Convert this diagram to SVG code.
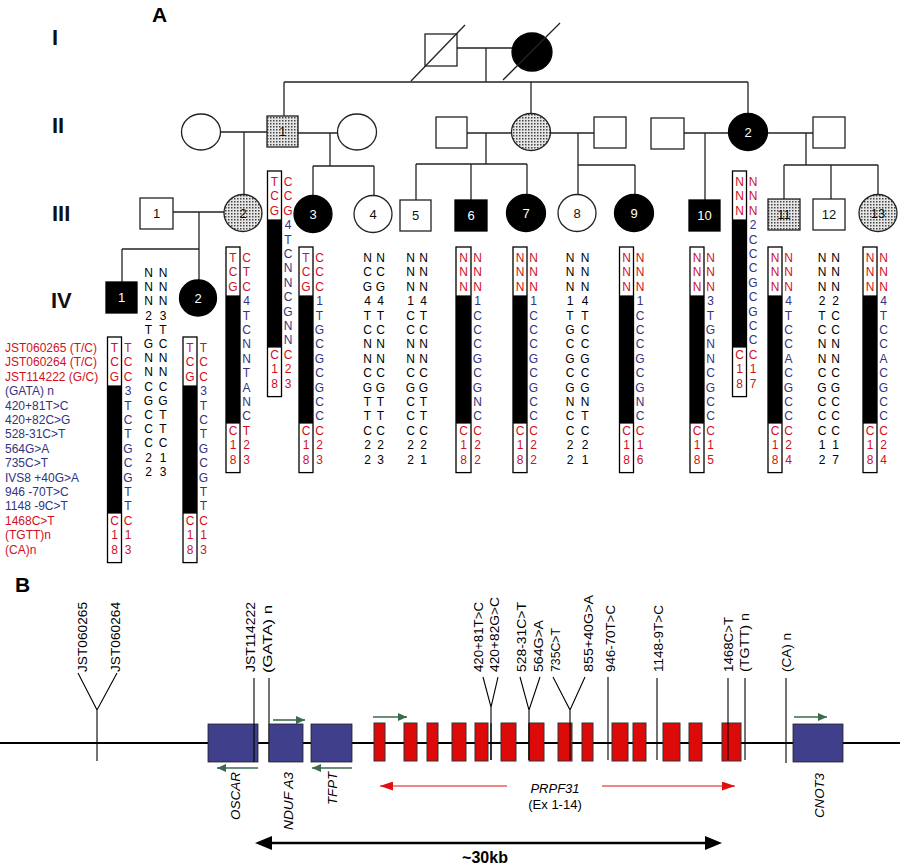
<svg xmlns="http://www.w3.org/2000/svg" width="900" height="867" viewBox="0 0 900 867">
<defs>
<style>
text{font-family:"Liberation Sans",Arial,sans-serif}
.ln{stroke:#222;stroke-width:1.3;fill:none}
.o{fill:#fff;stroke:#222;stroke-width:1.3}
.f{fill:#000;stroke:#000;stroke-width:1.3}
.s{fill:url(#dots);stroke:#222;stroke-width:1.3}
.nl{font-size:13px;text-anchor:middle;fill:#111}
.nw{font-size:13px;text-anchor:middle;fill:#fff}
.gen{font-size:22px;font-weight:bold;fill:#111}
.pl{font-size:21px;font-weight:bold;fill:#000}
.h{font-size:12px;text-anchor:middle}
.r{fill:#d0101e}
.b{fill:#33337f}
.k{fill:#000}
.lab{font-size:12px}
.box{fill:#fff;stroke:#000;stroke-width:1.3}
.blk{fill:#000}
.ml{stroke:#000;stroke-width:1.1;fill:none}
.rt{font-size:13px;fill:#000}
.gi{font-size:13px;font-style:italic;fill:#000}
.gene{fill:#3f3f8c;stroke:#222;stroke-width:0.8}
.exon{fill:#dd0a0a;stroke:#333;stroke-width:1}
.ga{stroke:#3a6b4d;stroke-width:1.6;fill:none;marker-end:url(#gh)}
.ra{stroke:#e01010;stroke-width:1.1;fill:none;marker-end:url(#rh)}
</style>
<pattern id="dots" width="3" height="3" patternUnits="userSpaceOnUse"><rect width="3" height="3" fill="#e6e6e6"/><rect width="1.5" height="1.5" fill="#444"/></pattern>
<marker id="gh" markerWidth="9" markerHeight="8" refX="9" refY="4" orient="auto" markerUnits="userSpaceOnUse"><path d="M0,0 L9,4 L0,8 z" fill="#3a6b4d"/></marker>
<marker id="rh" markerWidth="13" markerHeight="9" refX="13" refY="4.5" orient="auto" markerUnits="userSpaceOnUse"><path d="M0,0 L13,4.5 L0,9 z" fill="#e01010"/></marker>
</defs>
<rect width="900" height="867" fill="#fff"/>

<!-- Panel A labels -->
<text class="pl" x="152" y="22">A</text>
<text class="gen" x="52" y="45">I</text>
<text class="gen" x="52" y="133">II</text>
<text class="gen" x="52" y="221">III</text>
<text class="gen" x="51" y="308">IV</text>

<!-- pedigree connectors -->
<g id="pedigree-lines">
<line class="ln" x1="457" y1="48" x2="512" y2="48"/>
<line class="ln" x1="486" y1="48" x2="486" y2="82"/>
<line class="ln" x1="284" y1="82" x2="748" y2="82"/>
<line class="ln" x1="284" y1="82" x2="284" y2="116"/>
<line class="ln" x1="531" y1="82" x2="531" y2="113"/>
<line class="ln" x1="748" y1="82" x2="748" y2="113"/>
<line class="ln" x1="221" y1="132" x2="267" y2="132"/>
<line class="ln" x1="244" y1="132" x2="244" y2="194"/>
<line class="ln" x1="298" y1="133" x2="338" y2="133"/>
<line class="ln" x1="330" y1="133" x2="330" y2="166"/>
<line class="ln" x1="313" y1="166" x2="374" y2="166"/>
<line class="ln" x1="313" y1="166" x2="313" y2="195"/>
<line class="ln" x1="374" y1="166" x2="374" y2="195"/>
<line class="ln" x1="467" y1="133" x2="512" y2="133"/>
<line class="ln" x1="486" y1="133" x2="486" y2="164"/>
<line class="ln" x1="416" y1="164" x2="527" y2="164"/>
<line class="ln" x1="416" y1="164" x2="416" y2="200"/>
<line class="ln" x1="471" y1="164" x2="471" y2="200"/>
<line class="ln" x1="527" y1="164" x2="527" y2="194"/>
<line class="ln" x1="550" y1="133" x2="594" y2="133"/>
<line class="ln" x1="578" y1="133" x2="578" y2="165"/>
<line class="ln" x1="578" y1="165" x2="635" y2="165"/>
<line class="ln" x1="578" y1="165" x2="578" y2="194"/>
<line class="ln" x1="635" y1="165" x2="635" y2="194"/>
<line class="ln" x1="684" y1="133" x2="729" y2="133"/>
<line class="ln" x1="705" y1="133" x2="705" y2="200"/>
<line class="ln" x1="767" y1="133" x2="813" y2="133"/>
<line class="ln" x1="806" y1="133" x2="806" y2="165"/>
<line class="ln" x1="784" y1="165" x2="878" y2="165"/>
<line class="ln" x1="784" y1="165" x2="784" y2="199"/>
<line class="ln" x1="831" y1="165" x2="831" y2="199"/>
<line class="ln" x1="878" y1="165" x2="878" y2="194"/>
<line class="ln" x1="173" y1="212" x2="224" y2="212"/>
<line class="ln" x1="199" y1="212" x2="199" y2="280"/>
<line class="ln" x1="122" y1="249" x2="199" y2="249"/>
<line class="ln" x1="122" y1="249" x2="122" y2="282"/>
</g>

<!-- Generation I -->
<g id="I-1"><rect class="o" x="425" y="34" width="32" height="32"/><line class="ln" x1="411" y1="81" x2="465" y2="25"/></g>
<g id="I-2"><ellipse class="f" cx="532" cy="52" rx="20" ry="19"/><line class="ln" x1="503" y1="80" x2="560" y2="23"/></g>

<!-- Generation II -->
<g id="II-1-wife1"><ellipse class="o" cx="201" cy="132" rx="19.5" ry="18"/></g>
<g id="II-1"><rect class="s" x="267" y="116" width="31" height="31"/><text class="nl" x="282.5" y="136">1</text></g>
<g id="II-1-wife2"><ellipse class="o" cx="357" cy="132" rx="19.5" ry="18"/></g>
<g id="II-husband1"><rect class="o" x="436" y="117" width="31" height="31"/></g>
<g id="II-carrier"><ellipse class="s" cx="531" cy="132" rx="19.5" ry="18.5"/></g>
<g id="II-husband2"><rect class="o" x="594" y="117" width="32" height="31"/></g>
<g id="II-husband3"><rect class="o" x="651" y="118" width="33" height="31"/></g>
<g id="II-2"><ellipse class="f" cx="748" cy="132" rx="19.5" ry="18.5"/><text class="nw" x="748" y="137">2</text></g>
<g id="II-husband4"><rect class="o" x="813" y="117" width="32" height="31"/></g>

<!-- Generation III -->
<g id="III-1"><rect class="o" x="140" y="198" width="33" height="31"/><text class="nl" x="156.5" y="218">1</text></g>
<g id="III-2"><ellipse class="s" cx="243" cy="213" rx="19" ry="18.5"/><text class="nl" x="243" y="218">2</text></g>
<g id="III-3"><ellipse class="f" cx="313" cy="214" rx="19" ry="18.5"/><text class="nw" x="313" y="219">3</text></g>
<g id="III-4"><ellipse class="o" cx="373" cy="214" rx="19" ry="18.5"/><text class="nl" x="373" y="219">4</text></g>
<g id="III-5"><rect class="o" x="400" y="200" width="31" height="31"/><text class="nl" x="415.5" y="220">5</text></g>
<g id="III-6"><rect class="f" x="455" y="200" width="32" height="31"/><text class="nw" x="471" y="220">6</text></g>
<g id="III-7"><ellipse class="f" cx="526" cy="213" rx="19.5" ry="18.5"/><text class="nw" x="526" y="218">7</text></g>
<g id="III-8"><ellipse class="o" cx="577" cy="213" rx="19" ry="18.5"/><text class="nl" x="577" y="218">8</text></g>
<g id="III-9"><ellipse class="f" cx="634" cy="213" rx="19.5" ry="18.5"/><text class="nw" x="634" y="218">9</text></g>
<g id="III-10"><rect class="f" x="689" y="200" width="31" height="31"/><text class="nw" x="704.5" y="220">10</text></g>
<g id="III-11"><rect class="s" x="768" y="199" width="32" height="31"/><text class="nl" x="784" y="219">11</text></g>
<g id="III-12"><rect class="o" x="813" y="199" width="32" height="31"/><text class="nl" x="829" y="219">12</text></g>
<g id="III-13"><ellipse class="s" cx="878" cy="213" rx="19" ry="18.5"/><text class="nl" x="878" y="218">13</text></g>

<!-- Generation IV -->
<g id="IV-1"><rect class="f" x="106" y="282" width="31" height="31"/><text class="nw" x="121.5" y="302">1</text></g>
<g id="IV-2"><ellipse class="f" cx="198" cy="298" rx="18.5" ry="18"/><text class="nw" x="198" y="303">2</text></g>

<!-- marker labels -->
<g id="marker-labels" class="lab">
<text class="r" x="5" y="352">JST060265 (T/C)</text>
<text class="r" x="5" y="366.4">JST060264 (T/C)</text>
<text class="r" x="5" y="380.8">JST114222 (G/C)</text>
<text class="b" x="5" y="395.2">(GATA) n</text>
<text class="b" x="5" y="409.6">420+81T&gt;C</text>
<text class="b" x="5" y="424">420+82C&gt;G</text>
<text class="b" x="5" y="438.4">528-31C&gt;T</text>
<text class="b" x="5" y="452.8">564G&gt;A</text>
<text class="b" x="5" y="467.2">735C&gt;T</text>
<text class="b" x="5" y="481.6">IVS8 +40G&gt;A</text>
<text class="b" x="5" y="496">946 -70T&gt;C</text>
<text class="b" x="5" y="510.4">1148 -9C&gt;T</text>
<text class="r" x="5" y="524.8">1468C&gt;T</text>
<text class="r" x="5" y="539.2">(TGTT)n</text>
<text class="r" x="5" y="553.6">(CA)n</text>
</g>

<!-- haplotypes: boxed (affected chromosome) -->
<g id="hap-IV-1" transform="translate(114.5,352)">
<rect class="box" x="-7" y="-15" width="14" height="225.6"/><rect class="blk" x="-7" y="33.4" width="14" height="128.2"/>
<text class="h r" x="0 0 0" y="0 14.4 28.8">TCG</text><text class="h r" x="0 0 0" y="172.8 187.2 201.6">C18</text>
<text class="h r" x="13.5 13.5 13.5" y="0 14.4 28.8">TCC</text>
<text class="h b" x="13.5 13.5 13.5 13.5 13.5 13.5 13.5 13.5 13.5" y="43.2 57.6 72 86.4 100.8 115.2 129.6 144 158.4">3TCTGCGTT</text>
<text class="h r" x="13.5 13.5 13.5" y="172.8 187.2 201.6">C13</text>
</g>
<g id="hap-IV-2" transform="translate(190,352)">
<rect class="box" x="-7" y="-15" width="14" height="225.6"/><rect class="blk" x="-7" y="33.4" width="14" height="128.2"/>
<text class="h r" x="0 0 0" y="0 14.4 28.8">TCG</text><text class="h r" x="0 0 0" y="172.8 187.2 201.6">C18</text>
<text class="h r" x="13.5 13.5 13.5" y="0 14.4 28.8">TCC</text>
<text class="h b" x="13.5 13.5 13.5 13.5 13.5 13.5 13.5 13.5 13.5" y="43.2 57.6 72 86.4 100.8 115.2 129.6 144 158.4">3TCTGCGTT</text>
<text class="h r" x="13.5 13.5 13.5" y="172.8 187.2 201.6">C13</text>
</g>
<g id="hap-III-2" transform="translate(233,262)">
<rect class="box" x="-7" y="-15" width="14" height="225.6"/><rect class="blk" x="-7" y="33.4" width="14" height="128.2"/>
<text class="h r" x="0 0 0" y="0 14.4 28.8">TCG</text><text class="h r" x="0 0 0" y="172.8 187.2 201.6">C18</text>
<text class="h r" x="13.5 13.5 13.5" y="0 14.4 28.8">CTC</text>
<text class="h b" x="13.5 13.5 13.5 13.5 13.5 13.5 13.5 13.5 13.5" y="43.2 57.6 72 86.4 100.8 115.2 129.6 144 158.4">4TCNNTANC</text>
<text class="h r" x="13.5 13.5 13.5" y="172.8 187.2 201.6">T23</text>
</g>
<g id="hap-II-1" transform="translate(274.5,186)">
<rect class="box" x="-7" y="-15" width="14" height="225.6"/><rect class="blk" x="-7" y="33.4" width="14" height="128.2"/>
<text class="h r" x="0 0 0" y="0 14.4 28.8">TCG</text><text class="h r" x="0 0 0" y="172.8 187.2 201.6">C18</text>
<text class="h r" x="13.5 13.5 13.5" y="0 14.4 28.8">CCG</text>
<text class="h b" x="13.5 13.5 13.5 13.5 13.5 13.5 13.5 13.5 13.5" y="43.2 57.6 72 86.4 100.8 115.2 129.6 144 158.4">4TCNNCGNN</text>
<text class="h r" x="13.5 13.5 13.5" y="172.8 187.2 201.6">C23</text>
</g>
<g id="hap-III-3" transform="translate(306,262)">
<rect class="box" x="-7" y="-15" width="14" height="225.6"/><rect class="blk" x="-7" y="33.4" width="14" height="128.2"/>
<text class="h r" x="0 0 0" y="0 14.4 28.8">TCG</text><text class="h r" x="0 0 0" y="172.8 187.2 201.6">C18</text>
<text class="h r" x="13.5 13.5 13.5" y="0 14.4 28.8">CCC</text>
<text class="h b" x="13.5 13.5 13.5 13.5 13.5 13.5 13.5 13.5 13.5" y="43.2 57.6 72 86.4 100.8 115.2 129.6 144 158.4">1TGCGCGCC</text>
<text class="h r" x="13.5 13.5 13.5" y="172.8 187.2 201.6">C23</text>
</g>
<g id="hap-III-6" transform="translate(463.5,262)">
<rect class="box" x="-7.5" y="-15" width="15" height="225.6"/><rect class="blk" x="-7.5" y="33.4" width="15" height="128.2"/>
<text class="h r" x="0 0 0" y="0 14.4 28.8">NNN</text><text class="h r" x="0 0 0" y="172.8 187.2 201.6">C18</text>
<text class="h r" x="14 14 14" y="0 14.4 28.8">NNN</text>
<text class="h b" x="14 14 14 14 14 14 14 14 14" y="43.2 57.6 72 86.4 100.8 115.2 129.6 144 158.4">1CCCGCGNC</text>
<text class="h r" x="14 14 14" y="172.8 187.2 201.6">C22</text>
</g>
<g id="hap-III-7" transform="translate(520,262)">
<rect class="box" x="-7" y="-15" width="14" height="225.6"/><rect class="blk" x="-7" y="33.4" width="14" height="128.2"/>
<text class="h r" x="0 0 0" y="0 14.4 28.8">NNN</text><text class="h r" x="0 0 0" y="172.8 187.2 201.6">C18</text>
<text class="h r" x="13.5 13.5 13.5" y="0 14.4 28.8">NNN</text>
<text class="h b" x="13.5 13.5 13.5 13.5 13.5 13.5 13.5 13.5 13.5" y="43.2 57.6 72 86.4 100.8 115.2 129.6 144 158.4">1CCCGCGCC</text>
<text class="h r" x="13.5 13.5 13.5" y="172.8 187.2 201.6">C22</text>
</g>
<g id="hap-III-9" transform="translate(626.5,262)">
<rect class="box" x="-7" y="-15" width="14" height="225.6"/><rect class="blk" x="-7" y="33.4" width="14" height="128.2"/>
<text class="h r" x="0 0 0" y="0 14.4 28.8">NNN</text><text class="h r" x="0 0 0" y="172.8 187.2 201.6">C18</text>
<text class="h r" x="13.5 13.5 13.5" y="0 14.4 28.8">NNN</text>
<text class="h b" x="13.5 13.5 13.5 13.5 13.5 13.5 13.5 13.5 13.5" y="43.2 57.6 72 86.4 100.8 115.2 129.6 144 158.4">1CCCGCGNC</text>
<text class="h r" x="13.5 13.5 13.5" y="172.8 187.2 201.6">C16</text>
</g>
<g id="hap-III-10" transform="translate(697,262)">
<rect class="box" x="-7" y="-15" width="14" height="225.6"/><rect class="blk" x="-7" y="33.4" width="14" height="128.2"/>
<text class="h r" x="0 0 0" y="0 14.4 28.8">NNN</text><text class="h r" x="0 0 0" y="172.8 187.2 201.6">C18</text>
<text class="h r" x="13.5 13.5 13.5" y="0 14.4 28.8">NNN</text>
<text class="h b" x="13.5 13.5 13.5 13.5 13.5 13.5 13.5 13.5 13.5" y="43.2 57.6 72 86.4 100.8 115.2 129.6 144 158.4">3TGNNCGCC</text>
<text class="h r" x="13.5 13.5 13.5" y="172.8 187.2 201.6">C15</text>
</g>
<g id="hap-II-2" transform="translate(739.5,186)">
<rect class="box" x="-7" y="-15" width="14" height="225.6"/><rect class="blk" x="-7" y="33.4" width="14" height="128.2"/>
<text class="h r" x="0 0 0" y="0 14.4 28.8">NNN</text><text class="h r" x="0 0 0" y="172.8 187.2 201.6">C18</text>
<text class="h r" x="13.5 13.5 13.5" y="0 14.4 28.8">NNN</text>
<text class="h b" x="13.5 13.5 13.5 13.5 13.5 13.5 13.5 13.5 13.5" y="43.2 57.6 72 86.4 100.8 115.2 129.6 144 158.4">2CCCGCGCC</text>
<text class="h r" x="13.5 13.5 13.5" y="172.8 187.2 201.6">C17</text>
</g>
<g id="hap-III-11" transform="translate(775,262)">
<rect class="box" x="-7" y="-15" width="14" height="225.6"/><rect class="blk" x="-7" y="33.4" width="14" height="128.2"/>
<text class="h r" x="0 0 0" y="0 14.4 28.8">NNN</text><text class="h r" x="0 0 0" y="172.8 187.2 201.6">C18</text>
<text class="h r" x="13.5 13.5 13.5" y="0 14.4 28.8">NNN</text>
<text class="h b" x="13.5 13.5 13.5 13.5 13.5 13.5 13.5 13.5 13.5" y="43.2 57.6 72 86.4 100.8 115.2 129.6 144 158.4">4TCCACGCC</text>
<text class="h r" x="13.5 13.5 13.5" y="172.8 187.2 201.6">C24</text>
</g>
<g id="hap-III-13" transform="translate(870,262)">
<rect class="box" x="-7" y="-15" width="14" height="225.6"/><rect class="blk" x="-7" y="33.4" width="14" height="128.2"/>
<text class="h r" x="0 0 0" y="0 14.4 28.8">NNN</text><text class="h r" x="0 0 0" y="172.8 187.2 201.6">C18</text>
<text class="h r" x="13.5 13.5 13.5" y="0 14.4 28.8">NNN</text>
<text class="h b" x="13.5 13.5 13.5 13.5 13.5 13.5 13.5 13.5 13.5" y="43.2 57.6 72 86.4 100.8 115.2 129.6 144 158.4">4TCCACGCC</text>
<text class="h r" x="13.5 13.5 13.5" y="172.8 187.2 201.6">C24</text>
</g>

<!-- haplotypes: unaffected -->
<g id="hap-III-1" transform="translate(148.5,277)">
<text class="h k" x="0 0 0 0 0 0 0 0 0 0 0 0 0 0 0" y="0 14.2 28.4 42.6 56.8 71 85.2 99.4 113.6 127.8 142 156.2 170.4 184.6 198.8">NNN2TGNNCGCCC22</text>
<text class="h k" x="14.5 14.5 14.5 14.5 14.5 14.5 14.5 14.5 14.5 14.5 14.5 14.5 14.5 14.5 14.5" y="0 14.2 28.4 42.6 56.8 71 85.2 99.4 113.6 127.8 142 156.2 170.4 184.6 198.8">NNN3TCNNCGTTC13</text>
</g>
<g id="hap-III-4" transform="translate(367.5,262)">
<text class="h k" x="0 0 0 0 0 0 0 0 0 0 0 0 0 0 0" y="0 14.4 28.8 43.2 57.6 72 86.4 100.8 115.2 129.6 144 158.4 172.8 187.2 201.6">NCG4TCNNCGTTC22</text>
<text class="h k" x="13 13 13 13 13 13 13 13 13 13 13 13 13 13 13" y="0 14.4 28.8 43.2 57.6 72 86.4 100.8 115.2 129.6 144 158.4 172.8 187.2 201.6">NCG4TCNNCGTTC23</text>
</g>
<g id="hap-III-5" transform="translate(410.5,262)">
<text class="h k" x="0 0 0 0 0 0 0 0 0 0 0 0 0 0 0" y="0 14.4 28.8 43.2 57.6 72 86.4 100.8 115.2 129.6 144 158.4 172.8 187.2 201.6">NNN1CCNNCGCCC22</text>
<text class="h k" x="13 13 13 13 13 13 13 13 13 13 13 13 13 13 13" y="0 14.4 28.8 43.2 57.6 72 86.4 100.8 115.2 129.6 144 158.4 172.8 187.2 201.6">NNN4TCNNCGTTC21</text>
</g>
<g id="hap-III-8" transform="translate(570,262)">
<text class="h k" x="0 0 0 0 0 0 0 0 0 0 0 0 0 0 0" y="0 14.4 28.8 43.2 57.6 72 86.4 100.8 115.2 129.6 144 158.4 172.8 187.2 201.6">NNN1TGCGCGNCC22</text>
<text class="h k" x="15 15 15 15 15 15 15 15 15 15 15 15 15 15 15" y="0 14.4 28.8 43.2 57.6 72 86.4 100.8 115.2 129.6 144 158.4 172.8 187.2 201.6">NNN4TCCGCGNTC21</text>
</g>
<g id="hap-III-12" transform="translate(822,262)">
<text class="h k" x="0 0 0 0 0 0 0 0 0 0 0 0 0 0 0" y="0 14.4 28.8 43.2 57.6 72 86.4 100.8 115.2 129.6 144 158.4 172.8 187.2 201.6">NNN2TCNNCGCCC12</text>
<text class="h k" x="13.5 13.5 13.5 13.5 13.5 13.5 13.5 13.5 13.5 13.5 13.5 13.5 13.5 13.5 13.5" y="0 14.4 28.8 43.2 57.6 72 86.4 100.8 115.2 129.6 144 158.4 172.8 187.2 201.6">NNN2CCNNCGCCC17</text>
</g>

<!-- Panel B -->
<text class="pl" x="15" y="592">B</text>
<g id="map-connectors">
<line x1="0" y1="743" x2="900" y2="743" stroke="#000" stroke-width="2"/>
<path class="ml" d="M97,761 V710 L78,673 M97,710 L117,673"/>
<line class="ml" x1="254" y1="678" x2="254" y2="762"/>
<line class="ml" x1="269" y1="678" x2="269" y2="762"/>
<path class="ml" d="M491,760 V707 L483,677 M491,707 L498,677"/>
<path class="ml" d="M529,760 V710 L520,677 M529,710 L540,677"/>
<path class="ml" d="M570,760 V710 L553,677 M570,710 L585,677"/>
<line class="ml" x1="608" y1="677" x2="608" y2="760"/>
<line class="ml" x1="657" y1="678" x2="657" y2="760"/>
<line class="ml" x1="745" y1="678" x2="745" y2="760"/>
<line class="ml" x1="786" y1="678" x2="786" y2="763"/>
<line class="ga" x1="258" y1="768" x2="217" y2="768"/>
<line class="ga" x1="273" y1="720" x2="305" y2="720"/>
<line class="ga" x1="352" y1="768" x2="312" y2="768"/>
<line class="ga" x1="373" y1="717" x2="407" y2="717"/>
<line class="ga" x1="794" y1="717" x2="827" y2="717"/>
<line class="ra" x1="507" y1="786" x2="380" y2="786"/>
<line class="ra" x1="602" y1="786" x2="735" y2="786"/>
<line x1="270" y1="843" x2="707" y2="843" stroke="#000" stroke-width="2.5"/>
<polygon points="255,843 272,836 272,850" fill="#000"/>
<polygon points="722,843 705,836 705,850" fill="#000"/>
</g>

<g id="OSCAR"><rect class="gene" x="208" y="724" width="50" height="38"/><text class="gi" transform="translate(240,820) rotate(-90)" textLength="48" lengthAdjust="spacingAndGlyphs">OSCAR</text></g>
<line class="ml" x1="254" y1="724" x2="254" y2="762"/>
<g id="NDUFA3"><rect class="gene" x="269" y="724" width="34" height="38"/><text class="gi" transform="translate(293,830) rotate(-90)" textLength="58" lengthAdjust="spacingAndGlyphs">NDUF A3</text></g>
<g id="TFPT"><rect class="gene" x="311" y="724" width="41" height="38"/><text class="gi" transform="translate(337,805) rotate(-90)" textLength="33" lengthAdjust="spacingAndGlyphs">TFPT</text></g>
<g id="CNOT3"><rect class="gene" x="793" y="724" width="50" height="38"/><text class="gi" transform="translate(824,818) rotate(-90)" textLength="45" lengthAdjust="spacingAndGlyphs">CNOT3</text></g>

<g id="PRPF31">
<rect class="exon" x="374" y="723" width="11" height="38"/>
<rect class="exon" x="404" y="723" width="13" height="38"/>
<rect class="exon" x="427" y="723" width="11" height="38"/>
<rect class="exon" x="452" y="723" width="14" height="38"/>
<rect class="exon" x="475" y="723" width="13" height="38"/>
<rect class="exon" x="501" y="723" width="15" height="38"/>
<rect class="exon" x="529" y="723" width="15" height="38"/>
<rect class="exon" x="558" y="723" width="14" height="38"/>
<rect class="exon" x="582" y="723" width="11" height="38"/>
<rect class="exon" x="612" y="723" width="16" height="38"/>
<rect class="exon" x="633" y="723" width="13" height="38"/>
<rect class="exon" x="663" y="723" width="17" height="38"/>
<rect class="exon" x="689" y="723" width="13" height="38"/>
<rect class="exon" x="722" y="723" width="19" height="38"/>
<line class="ml" x1="491" y1="723" x2="491" y2="760"/>
<line class="ml" x1="529" y1="723" x2="529" y2="760"/>
<line class="ml" x1="570" y1="723" x2="570" y2="760"/>
<line class="ml" x1="728" y1="678" x2="728" y2="760"/>
<text class="gi" x="555" y="793" text-anchor="middle">PRPF31</text>
<text class="rt" x="555" y="809" text-anchor="middle">(Ex 1-14)</text>
</g>

<g id="snp-labels">
<text class="rt" transform="translate(87,672) rotate(-90)" textLength="70" lengthAdjust="spacingAndGlyphs">JST060265</text>
<text class="rt" transform="translate(120,672) rotate(-90)" textLength="70" lengthAdjust="spacingAndGlyphs">JST060264</text>
<text class="rt" transform="translate(255,672) rotate(-90)" textLength="70" lengthAdjust="spacingAndGlyphs">JST114222</text>
<text class="rt" transform="translate(272,673) rotate(-90)" textLength="68" lengthAdjust="spacingAndGlyphs">(GATA) n</text>
<text class="rt" transform="translate(483,672) rotate(-90)" textLength="70" lengthAdjust="spacingAndGlyphs">420+81T&gt;C</text>
<text class="rt" transform="translate(499,672) rotate(-90)" textLength="75" lengthAdjust="spacingAndGlyphs">420+82G&gt;C</text>
<text class="rt" transform="translate(526,672) rotate(-90)" textLength="70" lengthAdjust="spacingAndGlyphs">528-31C&gt;T</text>
<text class="rt" transform="translate(543,672) rotate(-90)" textLength="52" lengthAdjust="spacingAndGlyphs">564G&gt;A</text>
<text class="rt" transform="translate(560,672) rotate(-90)" textLength="44" lengthAdjust="spacingAndGlyphs">735C&gt;T</text>
<text class="rt" transform="translate(593,672) rotate(-90)" textLength="77" lengthAdjust="spacingAndGlyphs">855+40G&gt;A</text>
<text class="rt" transform="translate(615,672) rotate(-90)" textLength="67" lengthAdjust="spacingAndGlyphs">946-70T&gt;C</text>
<text class="rt" transform="translate(663,672) rotate(-90)" textLength="67" lengthAdjust="spacingAndGlyphs">1148-9T&gt;C</text>
<text class="rt" transform="translate(733,672) rotate(-90)" textLength="55" lengthAdjust="spacingAndGlyphs">1468C&gt;T</text>
<text class="rt" transform="translate(749,672) rotate(-90)" textLength="59" lengthAdjust="spacingAndGlyphs">(TGTT) n</text>
<text class="rt" transform="translate(791,672) rotate(-90)" textLength="39" lengthAdjust="spacingAndGlyphs">(CA) n</text>
</g>
<text x="485" y="863" text-anchor="middle" font-size="16" font-weight="bold" fill="#000">~30kb</text>
</svg>
